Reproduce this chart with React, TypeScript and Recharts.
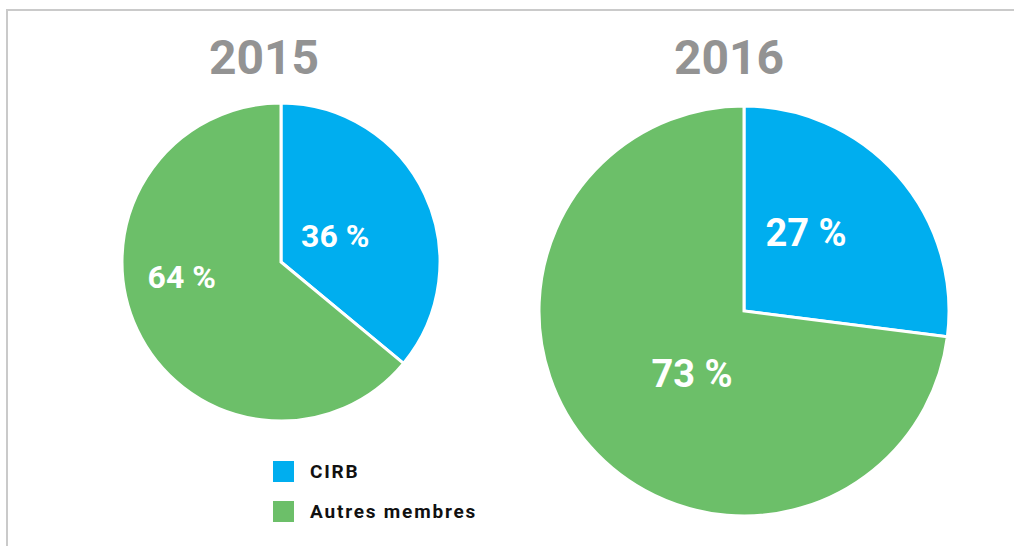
import { Pie, PieChart, Cell, Legend } from "recharts";

const categories = ["CIRB", "Autres membres"];
const years = ["2015", "2016"];
const values2015 = [36, 64];
const values2016 = [27, 73];

const colors = ["#00AEEF", "#6CBF69"];
const font = "Roboto, 'Noto Sans', sans-serif";

// label placement tweaks (styling only)
const labelNudges: Record<string, [number, number][]> = {
  "2015": [[0, 0], [-45, -11]],
  "2016": [[4, -27], [6, 12]],
};
const labelSizes: Record<string, number> = { "2015": 32, "2016": 38 };

const makeLabel = (year: string) => (props: any) => {
  const { cx, cy, midAngle, outerRadius, value, index } = props;
  const RAD = Math.PI / 180;
  const r = outerRadius * 0.377;
  const [dx, dy] = labelNudges[year][index];
  const x = cx + r * Math.cos(-midAngle * RAD) + dx;
  const y = cy + r * Math.sin(-midAngle * RAD) + dy;
  return (
    <text
      x={x}
      y={y}
      fill="#fff"
      textAnchor="middle"
      dominantBaseline="central"
      style={{ fontFamily: font, fontWeight: 700, fontSize: labelSizes[year] }}
    >
      {`${value} %`}
    </text>
  );
};

const renderLegend = () => (
  <div style={{ fontFamily: font }}>
    {categories.map((name, i) => (
      <div
        key={name}
        style={{ display: "flex", alignItems: "center", height: 21, marginBottom: 19 }}
      >
        <span
          style={{ width: 21, height: 21, background: colors[i], display: "inline-block" }}
        />
        <span
          style={{
            marginLeft: 16,
            fontSize: 19,
            fontWeight: 700,
            color: "#111",
            letterSpacing: 1.8,
          }}
        >
          {name}
        </span>
      </div>
    ))}
  </div>
);

export default function App() {
  const d2015 = categories.map((name, i) => ({ name, value: values2015[i] }));
  const d2016 = categories.map((name, i) => ({ name, value: values2016[i] }));
  const titleStyle = {
    position: "absolute" as const,
    top: 30,
    width: 200,
    textAlign: "center" as const,
    fontFamily: font,
    fontWeight: 700,
    fontSize: 48,
    color: "#939393",
    lineHeight: "56px",
  };
  return (
    <div
      style={{
        position: "absolute",
        left: 0,
        top: 0,
        width: 1014,
        height: 546,
        background: "#fff",
        overflow: "hidden",
      }}
    >
      <div
        style={{
          position: "absolute",
          left: 6,
          top: 9,
          width: 1014,
          height: 600,
          borderTop: "2px solid #cacaca",
          borderLeft: "2px solid #cacaca",
        }}
      />
      <div style={{ ...titleStyle, left: 164 }}>{years[0]}</div>
      <div style={{ ...titleStyle, left: 629 }}>{years[1]}</div>
      <PieChart
        width={1014}
        height={546}
        margin={{ top: 0, right: 0, bottom: 0, left: 0 }}
        style={{ position: "absolute", left: 0, top: 0 }}
      >
        <Pie
          data={d2015}
          dataKey="value"
          cx={281}
          cy={262}
          outerRadius={159}
          startAngle={90}
          endAngle={-270}
          stroke="#fff"
          strokeWidth={3}
          label={makeLabel("2015")}
          labelLine={false}
          isAnimationActive={false}
        >
          {d2015.map((e, i) => (
            <Cell key={e.name} fill={colors[i]} />
          ))}
        </Pie>
        <Pie
          data={d2016}
          dataKey="value"
          cx={744}
          cy={311}
          outerRadius={205}
          startAngle={90}
          endAngle={-270}
          stroke="#fff"
          strokeWidth={3}
          label={makeLabel("2016")}
          labelLine={false}
          isAnimationActive={false}
        >
          {d2016.map((e, i) => (
            <Cell key={e.name} fill={colors[i]} />
          ))}
        </Pie>
        <Legend
          content={renderLegend}
          layout="vertical"
          wrapperStyle={{ position: "absolute", left: 273, top: 461, width: 260, bottom: "auto" }}
        />
      </PieChart>
    </div>
  );
}
